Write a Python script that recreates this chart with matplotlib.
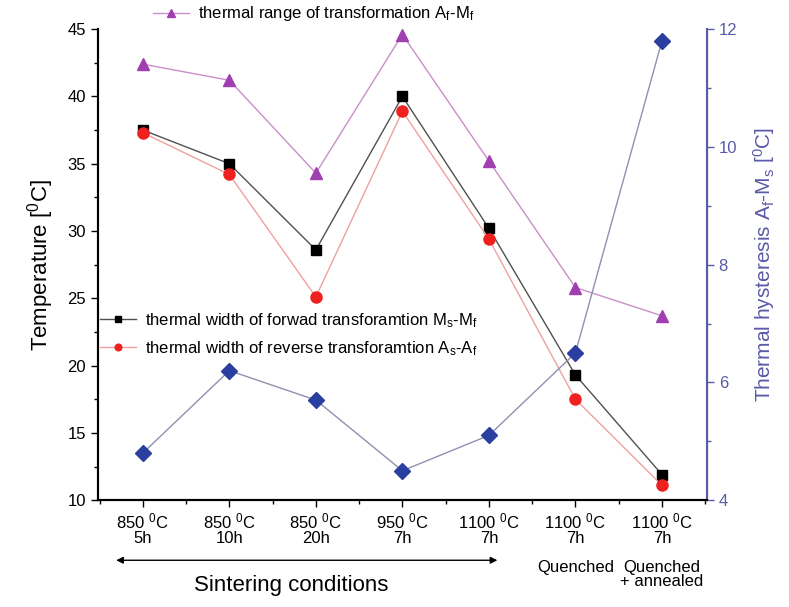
import matplotlib
matplotlib.use("Agg")
import matplotlib.pyplot as plt
import matplotlib.transforms as mtransforms
from matplotlib.ticker import MultipleLocator

plt.rcParams['font.family'] = ['Liberation Sans Narrow', 'Liberation Sans', 'DejaVu Sans']

# condition labels
conditions = [
    "850 $\\mathregular{^{0}}$C\n5h",
    "850 $\\mathregular{^{0}}$C\n10h",
    "850 $\\mathregular{^{0}}$C\n20h",
    "950 $\\mathregular{^{0}}$C\n7h",
    "1100 $\\mathregular{^{0}}$C\n7h",
    "1100 $\\mathregular{^{0}}$C\n7h\n\nQuenched",
    "1100 $\\mathregular{^{0}}$C\n7h\n\nQuenched\n+ annealed",
]

# temperature widths (left axis)
range_af_mf = [42.4, 41.2, 34.3, 44.6, 35.2, 25.8, 23.7]
forward_ms_mf = [37.5, 35.0, 28.6, 40.0, 30.2, 19.3, 11.9]
reverse_as_af = [37.3, 34.2, 25.1, 38.9, 29.4, 17.5, 11.1]

# thermal hysteresis (right axis)
hysteresis = [4.8, 6.2, 5.7, 4.5, 5.1, 6.5, 11.8]

blue = "#2a3fa0"
axis_blue = "#5a5aa8"

fig = plt.figure(figsize=(7.89, 6.07), dpi=100)
ax = fig.add_axes([0.124, 0.176, 0.772, 0.776])
ax2 = ax.twinx()

x = list(range(len(conditions)))

l_range, = ax.plot(x, range_af_mf, color="#c890c8", lw=1, marker="^", ms=9,
                   mfc="#a040b0", mec="#a040b0",
                   label="thermal range of transformation A$\\mathregular{_f}$-M$\\mathregular{_f}$")
l_fwd, = ax.plot(x, forward_ms_mf, color="#505050", lw=1, marker="s", ms=7,
                 mfc="black", mec="black",
                 label="thermal width of forwad transforamtion M$\\mathregular{_s}$-M$\\mathregular{_f}$")
l_rev, = ax.plot(x, reverse_as_af, color="#f0a0a0", lw=1, marker="o", ms=8,
                 mfc="#ee2020", mec="#ee2020",
                 label="thermal width of reverse transforamtion A$\\mathregular{_s}$-A$\\mathregular{_f}$")
ax2.plot(x, hysteresis, color="#9090b0", lw=1, marker="D", ms=8,
         mfc=blue, mec=blue)

ax.set_xlim(-0.52, 6.52)
ax.set_ylim(10, 45)
ax2.set_ylim(4, 12)

ax.set_xticks(x)
ax.set_xticklabels(conditions, fontsize=12, linespacing=0.95)
ax.xaxis.set_minor_locator(MultipleLocator(0.5))
ax.yaxis.set_major_locator(MultipleLocator(5))
ax.yaxis.set_minor_locator(MultipleLocator(2.5))
ax.tick_params(axis="both", which="major", direction="out", length=5, width=1)
ax.tick_params(axis="both", which="minor", direction="out", length=3, width=1)
ax.tick_params(axis="y", labelsize=12)
ax.tick_params(axis="x", labelsize=12)

ax2.yaxis.set_major_locator(MultipleLocator(2))
ax2.yaxis.set_minor_locator(MultipleLocator(1))
ax2.tick_params(axis="y", which="major", direction="out", length=5, width=1,
                colors=axis_blue, labelsize=12)
ax2.tick_params(axis="y", which="minor", direction="out", length=3, width=1,
                colors=axis_blue)

for a in (ax, ax2):
    a.spines["top"].set_visible(False)
ax2.spines["right"].set_color(axis_blue)
ax2.spines["right"].set_linewidth(1.5)
ax2.spines["left"].set_linewidth(1.5)
ax2.spines["bottom"].set_linewidth(1.5)
ax.spines["left"].set_linewidth(1.5)
ax.spines["bottom"].set_linewidth(1.5)

ax.set_ylabel("Temperature [$\\mathregular{^{0}}$C]", fontsize=16, labelpad=8)
ax2.set_ylabel("Thermal hysteresis A$\\mathregular{_f}$-M$\\mathregular{_s}$ [$\\mathregular{^{0}}$C]",
               fontsize=15, color=axis_blue, labelpad=10)

fig.legend(handles=[l_range], loc="center left", bbox_to_anchor=(0.185, 0.977),
           frameon=False, fontsize=12, handlelength=2.2, handletextpad=0.5,
           markerscale=0.6, borderaxespad=0)
fig.legend(handles=[l_fwd, l_rev], loc="center left", bbox_to_anchor=(0.118, 0.449),
           frameon=False, fontsize=12, handlelength=2.2, handletextpad=0.5,
           markerscale=0.6, labelspacing=0.55, borderaxespad=0)

# sintering conditions arrow
trans = mtransforms.blended_transform_factory(ax.transData, fig.transFigure)
ax.annotate("", xy=(-0.34, 0.077), xytext=(4.13, 0.077), xycoords=trans,
            textcoords=trans,
            arrowprops=dict(arrowstyle="<|-|>", color="black", lw=1,
                            mutation_scale=10), annotation_clip=False)
ax.text(1.71, 0.035, "Sintering conditions", transform=trans, fontsize=16,
        ha="center", va="center")

fig.savefig("out.png", dpi=100)
